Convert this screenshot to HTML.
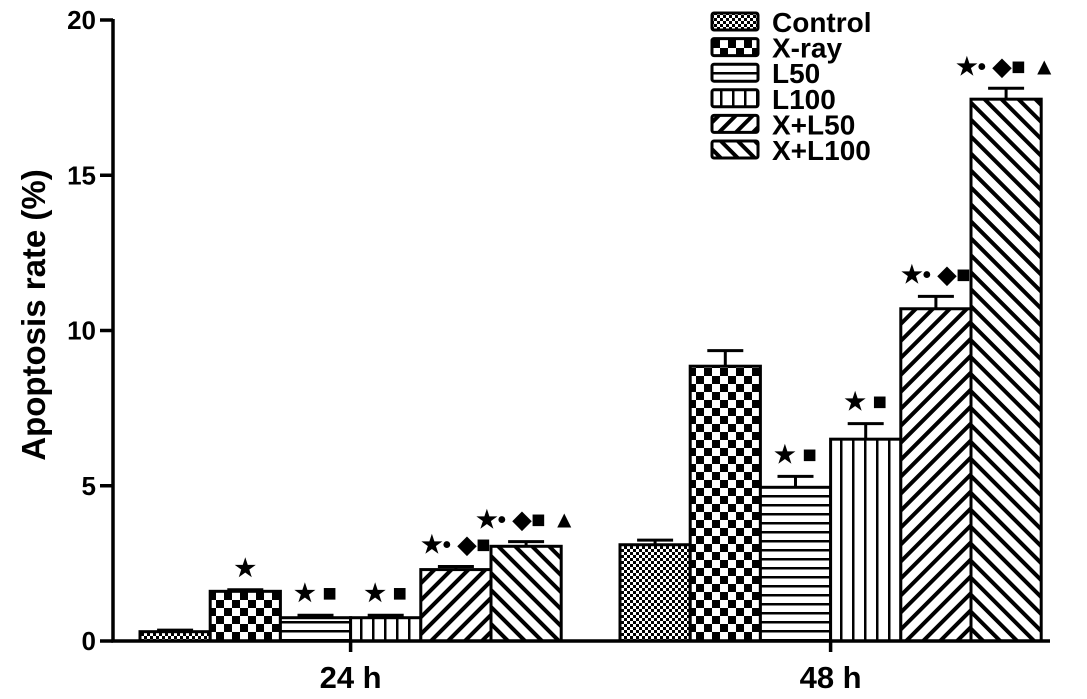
<!DOCTYPE html>
<html><head><meta charset="utf-8"><style>
html,body{margin:0;padding:0;background:#fff;}
svg{display:block;font-family:"Liberation Sans",Arial,sans-serif;font-weight:bold;}
</style></head><body>
<svg id="chart" width="1087" height="699" viewBox="0 0 1087 699">
<defs>
<pattern id="p0" width="6" height="6" patternUnits="userSpaceOnUse"><rect width="6" height="6" fill="#fff"/><rect width="3" height="3" fill="#000"/><rect x="3" y="3" width="3" height="3" fill="#000"/></pattern>
<pattern id="p1" width="16" height="16" patternUnits="userSpaceOnUse"><rect width="16" height="16" fill="#fff"/><rect width="8" height="8" fill="#000"/><rect x="8" y="8" width="8" height="8" fill="#000"/></pattern>
<pattern id="p2" width="10" height="9" patternUnits="userSpaceOnUse"><rect width="10" height="9" fill="#fff"/><rect y="0" width="10" height="2.5" fill="#000"/></pattern>
<pattern id="p3" width="12" height="10" patternUnits="userSpaceOnUse"><rect width="12" height="10" fill="#fff"/><rect x="0" width="2.5" height="10" fill="#000"/></pattern>
<pattern id="p4" width="12" height="12" patternUnits="userSpaceOnUse" patternTransform="rotate(45)"><rect width="12" height="12" fill="#fff"/><rect width="4" height="12" fill="#000"/></pattern>
<pattern id="p5" width="12" height="12" patternUnits="userSpaceOnUse" patternTransform="rotate(-45)"><rect width="12" height="12" fill="#fff"/><rect width="4" height="12" fill="#000"/></pattern>
</defs>
<g id="plot"></g>
</svg>
<script>
const groups=["24 h","48 h"];
const series=["Control","X-ray","L50","L100","X+L50","X+L100"];
const vals24=[0.3,1.6,0.75,0.75,2.3,3.05];
const err24=[0.05,0.05,0.08,0.08,0.1,0.15];
const vals48=[3.1,8.85,4.95,6.5,10.7,17.45];
const err48=[0.15,0.5,0.35,0.5,0.4,0.35];
const ann24=["","★","★ ■","★ ■","★• ◆■","★• ◆■ ▲"];
const ann48=["","","★ ■","★ ■","★• ◆■","★• ◆■ ▲"];
const yTicks=[0,5,10,15,20];
const NS="http://www.w3.org/2000/svg";
const g=document.getElementById('plot');
function y(v){return 641-v*31.05;}
const groupStart=[140,620], bw=70.2;
function x(gi,si){return groupStart[gi]+si*bw;}
function mk(t,a,parent){const e=document.createElementNS(NS,t);for(const k in a)e.setAttribute(k,a[k]);(parent||g).appendChild(e);return e;}
const vals=[vals24,vals48],errs=[err24,err48],anns=[ann24,ann48];
for(let gi=0;gi<2;gi++){for(let si=0;si<6;si++){
 const v=vals[gi][si],e=errs[gi][si],x0=x(gi,si),cx=x0+bw/2;
 const el=mk('line',{x1:cx,x2:cx,y1:y(v),y2:y(v+e),stroke:'#000','stroke-width':3});
 
 
 const cap=mk('line',{x1:cx-18,x2:cx+18,y1:y(v+e),y2:y(v+e),stroke:'#000','stroke-width':3});
 
 
 const r=mk('rect',{x:x0,y:y(v),width:bw,height:641-y(v),fill:'url(#p'+si+')',stroke:'#000','stroke-width':3});
 
 
 if(anns[gi][si]){const t=mk('text',{x:cx,y:y(v+e)-14,'text-anchor':'middle','font-size':24});t.textContent=anns[gi][si];
 
 }
}}
const ax=mk('path',{d:'M113 19 V641 H1050',stroke:'#000','stroke-width':3.5,fill:'none'});


yTicks.forEach(v=>{mk('line',{x1:100,x2:113,y1:y(v),y2:y(v),stroke:'#000','stroke-width':3.5});
 const t=mk('text',{x:96,y:y(v)+9,'text-anchor':'end','font-size':26});t.textContent=v;
 
 });
groups.forEach((n,gi)=>{const cx=groupStart[gi]+3*bw;
 mk('line',{x1:cx,x2:cx,y1:641,y2:652,stroke:'#000','stroke-width':3.5});
 const t=mk('text',{x:cx,y:688,'text-anchor':'middle','font-size':31});t.textContent=n;
 
 });
const yl=mk('text',{x:0,y:0,transform:'translate(45 315) rotate(-90)','text-anchor':'middle','font-size':33});yl.textContent='Apoptosis rate (%)';


series.forEach((s,i)=>{const ly=13+i*25.6;
 const r=mk('rect',{x:712,y:ly,width:46,height:17,rx:2,fill:'url(#p'+i+')',stroke:'#000','stroke-width':3});
 
 
 const t=mk('text',{x:772,y:ly+19,'font-size':28});t.textContent=s;
 
 });
</script>
</body></html>
